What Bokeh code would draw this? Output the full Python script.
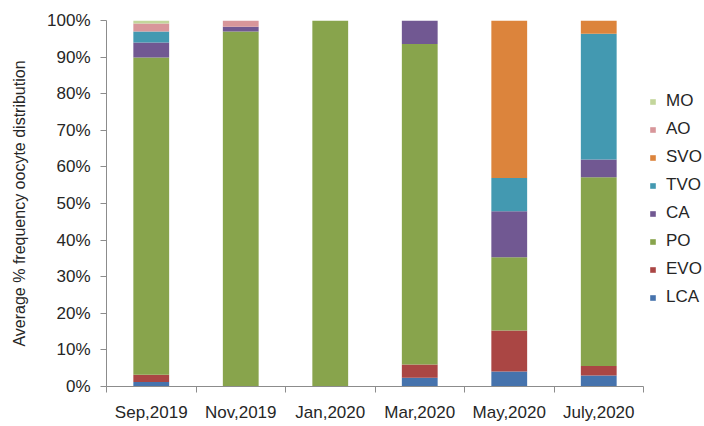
from bokeh.plotting import figure
from bokeh.models import Range1d, FixedTicker, Legend, LegendItem
from bokeh.embed import file_html
from bokeh.resources import INLINE

# ---- data (percent) ----
categories = ["Sep,2019", "Nov,2019", "Jan,2020", "Mar,2020", "May,2020", "July,2020"]
series_names = ["LCA", "EVO", "PO", "CA", "TVO", "SVO", "AO", "MO"]
LCA = [1.2, 0.0, 0.0, 2.4, 4.1, 3.0]
EVO = [2.0, 0.0, 0.0, 3.6, 11.2, 2.6]
PO = [86.7, 97.0, 100.0, 87.6, 20.0, 51.6]
CA = [4.1, 1.3, 0.0, 6.4, 12.6, 4.8]
TVO = [3.0, 0.0, 0.0, 0.0, 9.1, 34.4]
SVO = [0.0, 0.0, 0.0, 0.0, 43.0, 3.6]
AO = [2.2, 1.7, 0.0, 0.0, 0.0, 0.0]
MO = [0.8, 0.0, 0.0, 0.0, 0.0, 0.0]
y_ticks = [0, 10, 20, 30, 40, 50, 60, 70, 80, 90, 100]

colors = ["#4673ad", "#aa4644", "#88a44c", "#715892", "#4399b1", "#dc843c", "#d8969a", "#c3d69b"]

FONT = "Liberation Sans"
TXT = "#262626"
AX = "#8c8c8c"

p = figure(frame_width=537, frame_height=366, output_backend="svg", toolbar_location=None,
           x_range=Range1d(0, len(categories)), y_range=Range1d(0, 100),
           min_border_left=106, min_border_right=0, min_border_top=20, min_border_bottom=34)
p.outline_line_color = None
p.grid.visible = False

xs = [i + 0.5 for i in range(len(categories))]
data = dict(x=xs, LCA=LCA, EVO=EVO, PO=PO, CA=CA, TVO=TVO, SVO=SVO, AO=AO, MO=MO)
renderers = p.vbar_stack(series_names, x="x", width=0.4, color=colors, line_color=None, source=data)

# x axis: labels at centers, tick marks at category boundaries
xt = FixedTicker(ticks=xs, minor_ticks=list(range(len(categories) + 1)))
p.xaxis.ticker = xt
p.xaxis.major_label_overrides = {x: c for x, c in zip(xs, categories)}
p.xaxis.major_tick_out = 0
p.xaxis.major_tick_in = 0
p.xaxis.minor_tick_out = 6
p.xaxis.minor_tick_in = 0
p.xaxis.minor_tick_line_color = AX
p.xaxis.axis_line_color = AX
p.xaxis.major_label_standoff = 10
p.xaxis.major_label_text_font = FONT
p.xaxis.major_label_text_font_size = "17px"
p.xaxis.major_label_text_color = TXT

# y axis
p.yaxis.ticker = FixedTicker(ticks=y_ticks)
p.yaxis.major_label_overrides = {v: f"{v}%" for v in y_ticks}
p.yaxis.major_tick_out = 6
p.yaxis.major_tick_in = 0
p.yaxis.minor_tick_line_color = None
p.yaxis.axis_line_color = AX
p.yaxis.major_tick_line_color = AX
p.yaxis.major_label_standoff = 10
p.yaxis.major_label_text_font = FONT
p.yaxis.major_label_text_font_size = "17px"
p.yaxis.major_label_text_color = TXT
p.yaxis.axis_label = "Average % frequency oocyte distribution"
p.yaxis.axis_label_text_font = FONT
p.yaxis.axis_label_text_font_size = "16px"
p.yaxis.axis_label_text_font_style = "normal"
p.yaxis.axis_label_text_color = TXT
p.yaxis.axis_label_standoff = 16

items = [LegendItem(label=n, renderers=[r]) for n, r in zip(series_names, renderers)][::-1]
legend = Legend(items=items, location=(6, 79), orientation="vertical",
                glyph_width=7, glyph_height=7, label_standoff=10, spacing=8,
                label_height=20, padding=0, margin=0,
                label_text_font=FONT, label_text_font_size="17px", label_text_color=TXT,
                border_line_color=None, background_fill_alpha=0)
p.add_layout(legend, "right")

open("out.html", "w").write(file_html(p, INLINE))
